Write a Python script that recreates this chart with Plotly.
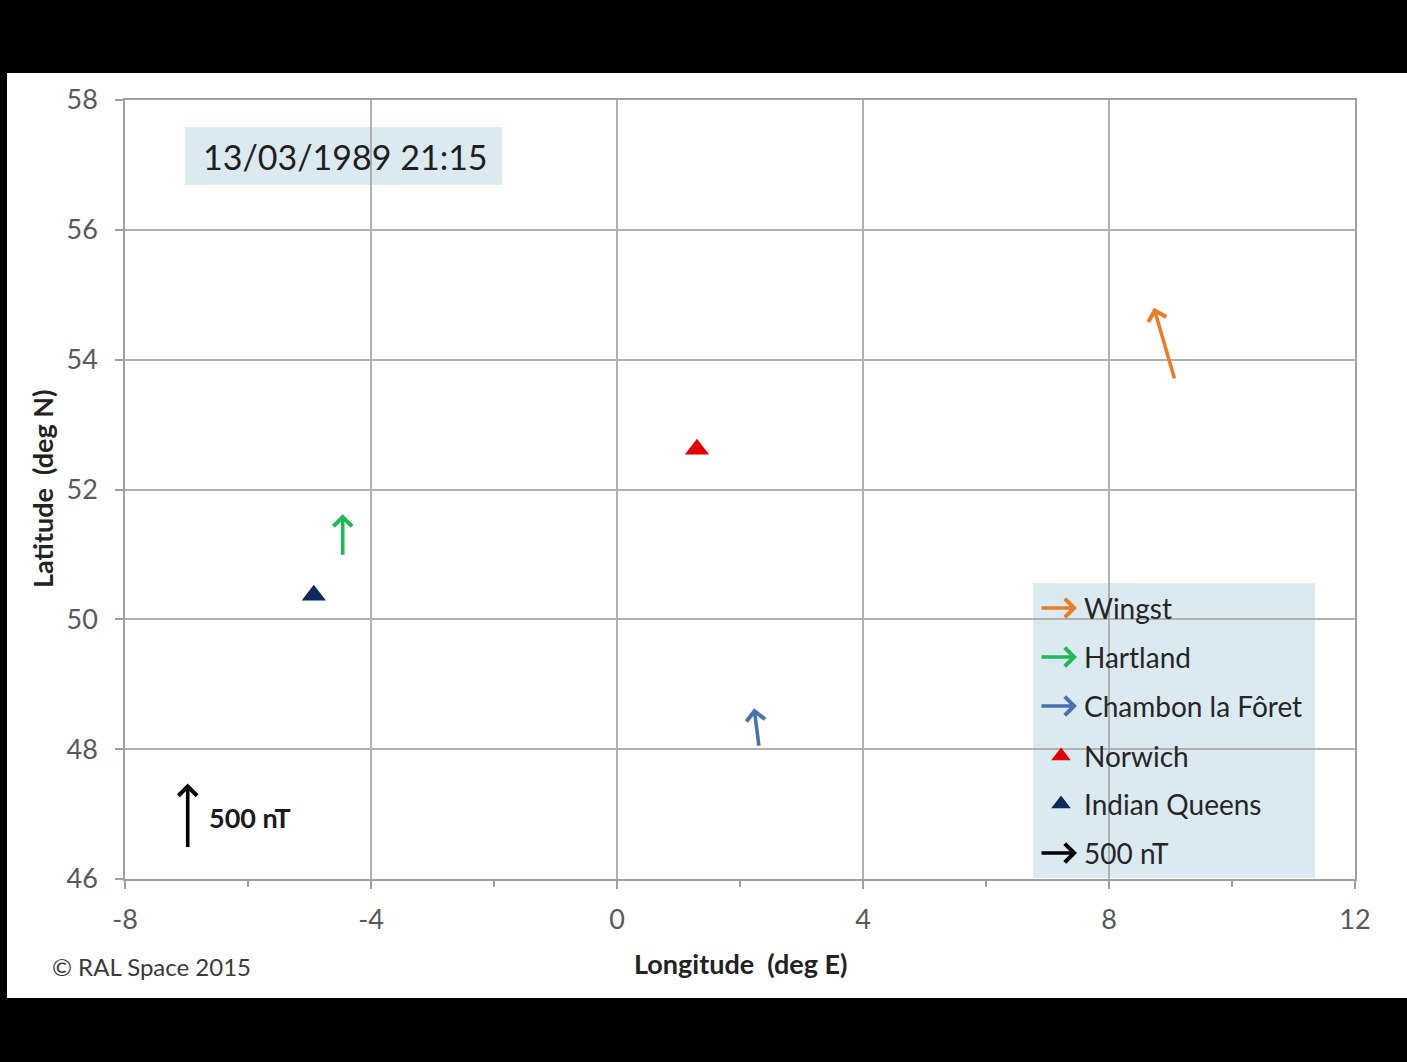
import plotly.graph_objects as go

# ---------------- data ----------------
arrow_stations = ["Wingst", "Hartland", "Chambon la Fôret"]
arrow_lon = [9.07, -4.46, 2.31]
arrow_lat = [53.69, 50.97, 48.03]
field_north_nT = [555, 325, 300]     # northward component
field_east_nT = [-170, 0, -40]       # eastward component
arrow_colors = ["#E87D2A", "#1DB954", "#4A72B0"]

marker_stations = ["Norwich", "Indian Queens"]
marker_lon = [1.30, -4.93]
marker_lat = [52.62, 50.37]
marker_colors = ["#E00000", "#0D2A5C"]

scale_nT = 500
scale_lon = -6.98
scale_lat = 46.47
DEG_PER_NT = 1.0 / 500.0

legend_labels = ["Wingst", "Hartland", "Chambon la Fôret", "Norwich", "Indian Queens", "500 nT"]

x_ticks = [-8, -4, 0, 4, 8, 12]
y_ticks = [46, 48, 50, 52, 54, 56, 58]

title_text = "13/03/1989 21:15"
credit_text = "© RAL Space 2015"

# ---------------- layout helpers ----------------
W, H = 1407, 1062
L, R, T, B = 125, 1355, 100, 879
FONT = "Lato"
GREY = "#595959"
BOXC = "#DBE9F1"


def px(xp):
    return (xp - L) / (R - L)


def py(yp):
    return (B - yp) / (B - T)


def dx(xp):
    return -8 + (xp - L) / (R - L) * 20


def dy(yp):
    return 58 - (yp - T) / (B - T) * 12


fig = go.Figure()

# station triangles
fig.add_trace(go.Scatter(
    x=marker_lon, y=marker_lat, mode="markers",
    marker=dict(symbol="triangle-up", size=21, color=marker_colors, line=dict(width=0)),
    showlegend=False, hoverinfo="text", text=marker_stations,
))

ARROW = dict(arrowhead=4, arrowsize=1.0, arrowwidth=3.6, standoff=0)

annotations = []
# field arrows
for name, lo, la, bn, be, c in zip(arrow_stations, arrow_lon, arrow_lat,
                                   field_north_nT, field_east_nT, arrow_colors):
    annotations.append(dict(
        x=lo + be * DEG_PER_NT, y=la + bn * DEG_PER_NT, xref="x", yref="y",
        ax=lo, ay=la, axref="x", ayref="y", text="", showarrow=True,
        arrowcolor=c, **ARROW,
    ))
# scale arrow
annotations.append(dict(
    x=scale_lon, y=scale_lat + scale_nT * DEG_PER_NT, xref="x", yref="y",
    ax=scale_lon, ay=scale_lat, axref="x", ayref="y", text="", showarrow=True,
    arrowcolor="#000000", **ARROW,
))
annotations.append(dict(
    x=px(207), y=py(817), xref="paper", yref="paper", xanchor="left", yanchor="middle",
    text="<b>500 nT</b>", showarrow=False, font=dict(family=FONT, size=27, color="#1A1A1A"),
))

# title box text
annotations.append(dict(
    x=px(345), y=py(157), xref="paper", yref="paper", xanchor="center", yanchor="middle",
    text=title_text, showarrow=False, font=dict(family=FONT, size=34, color="#1F1F1F"),
))

# axis titles
annotations.append(dict(
    x=px(740), y=py(963), xref="paper", yref="paper", xanchor="center", yanchor="middle",
    text="<b>Longitude  (deg E)</b>", showarrow=False, font=dict(family=FONT, size=27, color="#222222"),
))
annotations.append(dict(
    x=px(42), y=py(489), xref="paper", yref="paper", xanchor="center", yanchor="middle",
    text="<b>Latitude  (deg N)</b>", textangle=-90, showarrow=False,
    font=dict(family=FONT, size=27, color="#222222"),
))
annotations.append(dict(
    x=px(50), y=py(967), xref="paper", yref="paper", xanchor="left", yanchor="middle",
    text=credit_text, showarrow=False, font=dict(family=FONT, size=24, color="#3A3A3A"),
))

# manual legend
row_y = [608, 657, 706, 756, 804, 853]
sym_colors = arrow_colors + marker_colors + ["#000000"]
for i, (lab, ry) in enumerate(zip(legend_labels, row_y)):
    annotations.append(dict(
        x=px(1082), y=py(ry), xref="paper", yref="paper", xanchor="left", yanchor="middle",
        text=lab, showarrow=False, font=dict(family=FONT, size=28, color="#262626"),
    ))
    if i in (0, 1, 2, 5):
        annotations.append(dict(
            x=px(1077), y=py(ry), xref="paper", yref="paper", ax=-37, ay=0,
            text="", showarrow=True, arrowcolor=sym_colors[i], **ARROW,
        ))

fig.add_trace(go.Scatter(
    x=[dx(1061), dx(1061)], y=[dy(756), dy(804)], mode="markers",
    marker=dict(symbol="triangle-up", size=17, color=marker_colors, line=dict(width=0)),
    showlegend=False, hoverinfo="skip",
))

shapes = [
    # white page area between the black bands
    dict(type="rect", xref="paper", yref="paper", x0=px(7), x1=px(1410), y0=py(998), y1=py(73),
         fillcolor="white", line=dict(width=0), layer="below"),
    # title box
    dict(type="rect", xref="paper", yref="paper", x0=px(185), x1=px(502), y0=py(185), y1=py(127),
         fillcolor=BOXC, line=dict(width=0), layer="between"),
    # legend box
    dict(type="rect", xref="paper", yref="paper", x0=px(1033), x1=px(1315), y0=py(878), y1=py(583),
         fillcolor=BOXC, line=dict(width=0), layer="between"),
]

axis_common = dict(
    showgrid=True, gridcolor="#B0B0B0", gridwidth=1.5,
    showline=True, linecolor="#A0A0A0", linewidth=1.5, mirror=True,
    ticks="outside", ticklen=8, tickwidth=1.5, tickcolor="#A0A0A0",
    tickfont=dict(family=FONT, size=27, color=GREY),
    zeroline=False, fixedrange=True,
)

fig.update_layout(
    width=W, height=H,
    margin=dict(l=L, r=W - R, t=T, b=H - B),
    paper_bgcolor="black", plot_bgcolor="rgba(0,0,0,0)",
    showlegend=False,
    xaxis=dict(range=[-8, 12], tickvals=x_ticks, ticktext=[str(v) for v in x_ticks],
               ticklabelstandoff=8,
               minor=dict(ticks="outside", dtick=2, ticklen=6, tickcolor="#A0A0A0", showgrid=False),
               **axis_common),
    yaxis=dict(range=[46, 58], tickvals=y_ticks, ticktext=[str(v) for v in y_ticks],
               ticklabelstandoff=12, **axis_common),
    annotations=annotations,
    shapes=shapes,
)

fig.write_html("out.html", config={"displayModeBar": False},
               post_script="document.body.style.margin='0';document.body.style.overflow='hidden';")
